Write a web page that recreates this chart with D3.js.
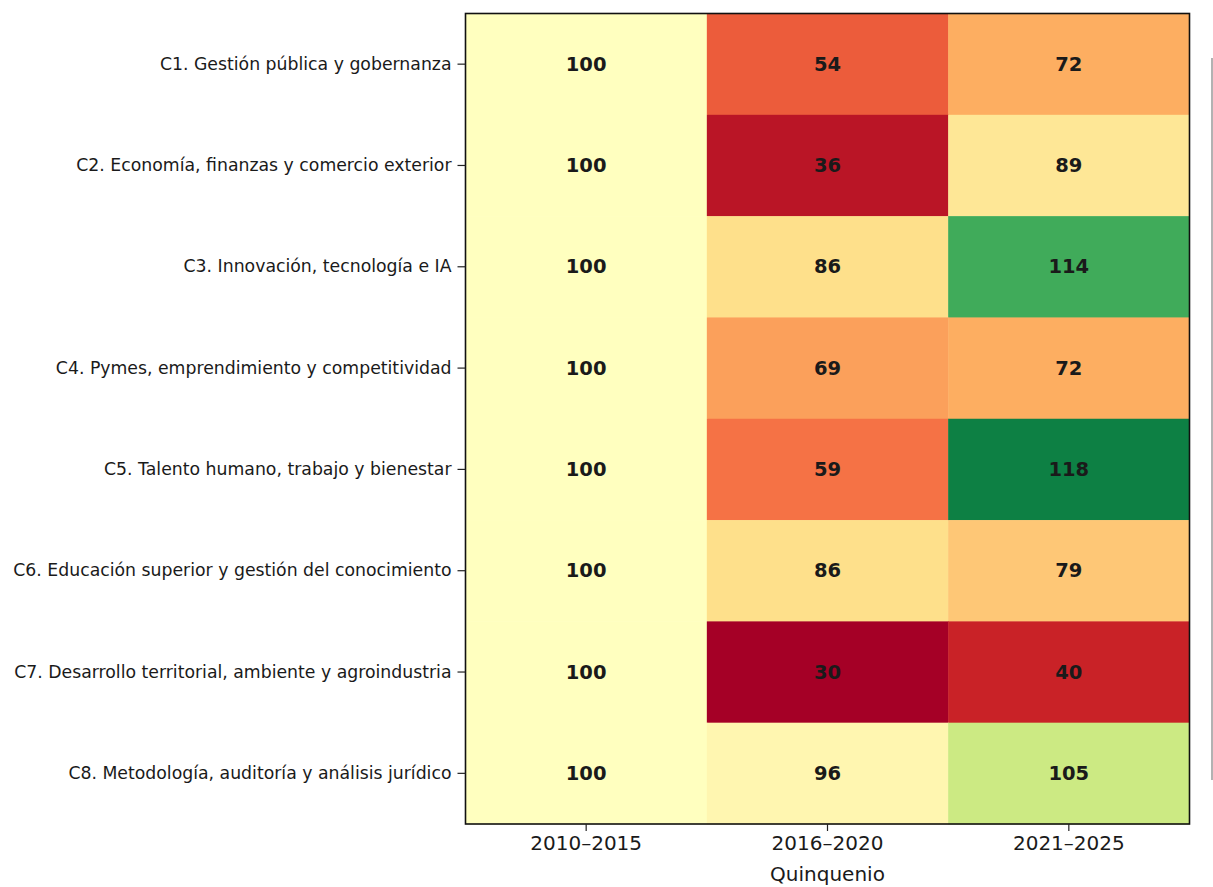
<!DOCTYPE html>
<html><head><meta charset="utf-8">
<script src="https://cdn.jsdelivr.net/npm/d3@7"></script>
<style>body{margin:0;background:#fff;} svg{display:block;}</style>
</head><body>
<svg id="chart" width="1213" height="887"></svg>
<script>
const categories = [
  "C1. Gestión pública y gobernanza",
  "C2. Economía, finanzas y comercio exterior",
  "C3. Innovación, tecnología e IA",
  "C4. Pymes, emprendimiento y competitividad",
  "C5. Talento humano, trabajo y bienestar",
  "C6. Educación superior y gestión del conocimiento",
  "C7. Desarrollo territorial, ambiente y agroindustria",
  "C8. Metodología, auditoría y análisis jurídico"
];
const periods = ["2010–2015", "2016–2020", "2021–2025"];
const v2010 = [100, 100, 100, 100, 100, 100, 100, 100];
const v2016 = [54, 36, 86, 69, 59, 86, 30, 96];
const v2021 = [72, 89, 114, 72, 118, 79, 40, 105];
const xLabel = "Quinquenio";

const series = [v2010, v2016, v2021];
const cells = [];
categories.forEach((c, i) => periods.forEach((p, j) => cells.push({cat: c, per: p, v: series[j][i]})));

const rdylgn = ['#a50026','#d73027','#f46d43','#fdae61','#fee08b','#ffffbf','#d9ef8b','#a6d96a','#66bd63','#1a9850','#006837'];
const cmap = d3.scaleLinear().domain(d3.range(11).map(k => k / 10)).range(rdylgn).interpolate(d3.interpolateRgb).clamp(true);
const norm = d3.scaleLinear().domain([30, 100, 120]).range([0, 0.5, 1]).clamp(true);

const svg = d3.select("#chart");
const L = 465.5, R = 1189.5, T = 13.5, B = 824;
const x = d3.scaleBand().domain(periods).range([L, R]);
const y = d3.scaleBand().domain(categories).range([T, B]);

const g = svg.append("g");
g.selectAll("rect.cell").data(cells).enter().append("rect")
  .attr("class", "cell")
  .attr("x", d => x(d.per)).attr("y", d => y(d.cat))
  .attr("width", x.bandwidth() + 0.5).attr("height", y.bandwidth() + 0.5)
  .attr("fill", d => cmap(norm(d.v)));

g.selectAll("text.val").data(cells).enter().append("text")
  .attr("class", "val")
  .attr("x", d => x(d.per) + x.bandwidth() / 2)
  .attr("y", d => y(d.cat) + y.bandwidth() / 2)
  .attr("text-anchor", "middle").attr("dominant-baseline", "central")
  .attr("font-family", "DejaVu Sans").attr("font-weight", "bold").attr("font-size", "19.5px")
  .attr("fill", "#1a1a1a")
  .text(d => d.v);

// frame
svg.append("rect").attr("x", L).attr("y", T).attr("width", R - L).attr("height", B - T)
  .attr("fill", "none").attr("stroke", "#111").attr("stroke-width", 1.6);

// axes
const yAxis = d3.axisLeft(y).tickSize(8).tickPadding(6);
const ya = svg.append("g").attr("transform", `translate(${L},0)`).call(yAxis);
ya.select(".domain").remove();
ya.selectAll("text").attr("font-family", "DejaVu Sans").attr("font-size", "17.3px").attr("fill", "#1a1a1a");
ya.selectAll("line").attr("stroke", "#222").attr("stroke-width", 1.2);

const xAxis = d3.axisBottom(x).tickSize(7).tickPadding(5);
const xa = svg.append("g").attr("transform", `translate(0,${B})`).call(xAxis);
xa.select(".domain").remove();
xa.selectAll("text").attr("font-family", "DejaVu Sans").attr("font-size", "20px").attr("fill", "#1a1a1a");
xa.selectAll("line").attr("stroke", "#222").attr("stroke-width", 1.2);

svg.append("text").attr("x", (L + R) / 2).attr("y", 881)
  .attr("text-anchor", "middle").attr("font-family", "DejaVu Sans").attr("font-size", "20px")
  .attr("fill", "#1a1a1a").text(xLabel);

// colorbar edge (cut off in the reference)
svg.append("line").attr("x1", 1212).attr("x2", 1212).attr("y1", 58).attr("y2", 780)
  .attr("stroke", "#999").attr("stroke-width", 1.5);
</script>
</body></html>
